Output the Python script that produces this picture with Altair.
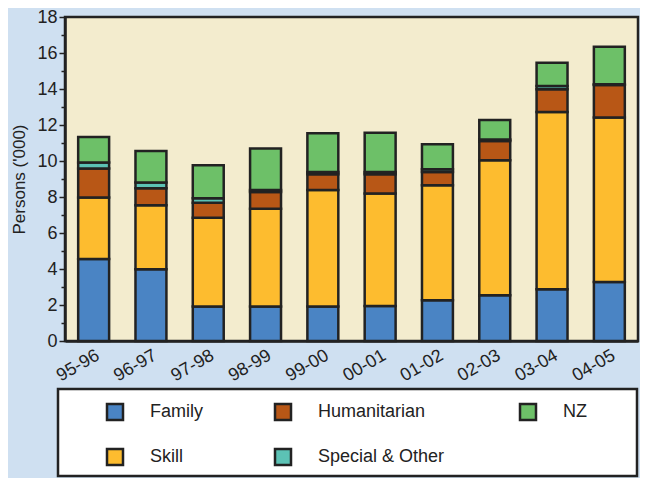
import altair as alt
import pandas as pd

# ---- data -------------------------------------------------------------
periods = ["95-96", "96-97", "97-98", "98-99", "99-00",
           "00-01", "01-02", "02-03", "03-04", "04-05"]
family = [4.55, 3.98, 1.91, 1.91, 1.91, 1.94, 2.26, 2.54, 2.87, 3.28]
skill = [3.42, 3.56, 4.94, 5.44, 6.48, 6.26, 6.39, 7.50, 9.85, 9.13]
humanitarian = [1.61, 0.94, 0.83, 0.93, 0.87, 1.06, 0.74, 1.07, 1.26, 1.81]
special = [0.33, 0.32, 0.25, 0.11, 0.13, 0.13, 0.15, 0.09, 0.19, 0.04]
nz = [1.43, 1.76, 1.83, 2.31, 2.15, 2.18, 1.39, 1.08, 1.29, 2.09]

stack_series = ["Family", "Skill", "Humanitarian", "Special & Other", "NZ"]
stack_values = [family, skill, humanitarian, special, nz]
series_colors = {
    "Family": "#4a84c4",
    "Skill": "#fdbc2f",
    "Humanitarian": "#b85716",
    "Special & Other": "#5cc2b5",
    "NZ": "#6dc068",
}
legend_names = ["Family", "Humanitarian", "NZ", "Skill", "Special & Other"]

rows = []
for si, (name, vals) in enumerate(zip(stack_series, stack_values)):
    for p, v in zip(periods, vals):
        rows.append({"period": p, "series": name, "value": v, "idx": si})
df = pd.DataFrame(rows)

legend_df = pd.DataFrame({
    "series": legend_names,
    "col": [i % 3 for i in range(len(legend_names))],
    "row": [i // 3 for i in range(len(legend_names))],
})

color_scale = alt.Scale(domain=stack_series,
                        range=[series_colors[s] for s in stack_series])

FONT = "Liberation Sans"
INK = "#222222"

# ---- main chart -------------------------------------------------------
bars = alt.Chart(df).mark_bar(stroke=INK, strokeWidth=2.5).encode(
    x=alt.X("period:N", sort=periods, title=None,
            scale=alt.Scale(paddingInner=0.46, paddingOuter=0.23),
            axis=alt.Axis(labelAngle=-30, labelAlign="right",
                          labelBaseline="top", labelPadding=5,
                          ticks=False, labelFontSize=18,
                          domainColor=INK, domainWidth=2.5)),
    y=alt.Y("value:Q", stack="zero", title="Persons ('000)",
            scale=alt.Scale(domain=[0, 18], nice=False),
            axis=alt.Axis(values=list(range(0, 19)),
                          labelExpr="datum.value % 2 == 0 ? datum.label : ''",
                          tickSize={"condition": {"test": "datum.value % 2 == 1", "value": 4}, "value": 6},
                          tickColor=INK, tickWidth=1.5,
                          labelFontSize=18, labelPadding=2,
                          titleFontSize=17, titleFontWeight="normal",
                          titlePadding=8,
                          domainColor=INK, domainWidth=2.5, grid=False)),
    color=alt.Color("series:N", scale=color_scale, legend=None),
    order=alt.Order("idx:Q", sort="ascending"),
).properties(
    width=573, height=324,
    view=alt.ViewBackground(fill="#f3ecce", stroke=INK, strokeWidth=2.5),
)

# ---- legend chart -----------------------------------------------------
one = pd.DataFrame({"a": [0]})
box = alt.Chart(one).mark_rect(
    fill="white", stroke=INK, strokeWidth=2.5
).encode(
    x=alt.value(-7), x2=alt.value(572), y=alt.value(0), y2=alt.value(87)
)

lx = alt.X("col:Q", axis=None,
           scale=alt.Scale(domain=[0, 1, 2], range=[50, 218, 463]))
ly = alt.Y("row:Q", axis=None,
           scale=alt.Scale(domain=[0, 1], range=[23, 68]))

squares = alt.Chart(legend_df).mark_square(
    size=256, opacity=1, stroke=INK, strokeWidth=2.5
).encode(
    x=lx, y=ly,
    color=alt.Color("series:N", scale=color_scale, legend=None),
)

labels = alt.Chart(legend_df).mark_text(
    align="left", baseline="middle", dx=35, fontSize=18, font=FONT, color=INK
).encode(x=lx, y=ly, text="series:N")

legend_chart = alt.layer(box, squares, labels).properties(
    width=573, height=87,
    view=alt.ViewBackground(strokeWidth=0),
)

chart = alt.vconcat(bars, legend_chart, spacing=48, bounds="flush").properties(
    background="#cfe0f1",
    padding={"left": 1, "top": -2, "right": 0, "bottom": 0},
).configure_axis(
    labelFont=FONT, titleFont=FONT, labelColor=INK, titleColor=INK,
).configure_view(strokeWidth=0)

chart.save("out.html", embed_options={"renderer": "svg", "actions": False})
